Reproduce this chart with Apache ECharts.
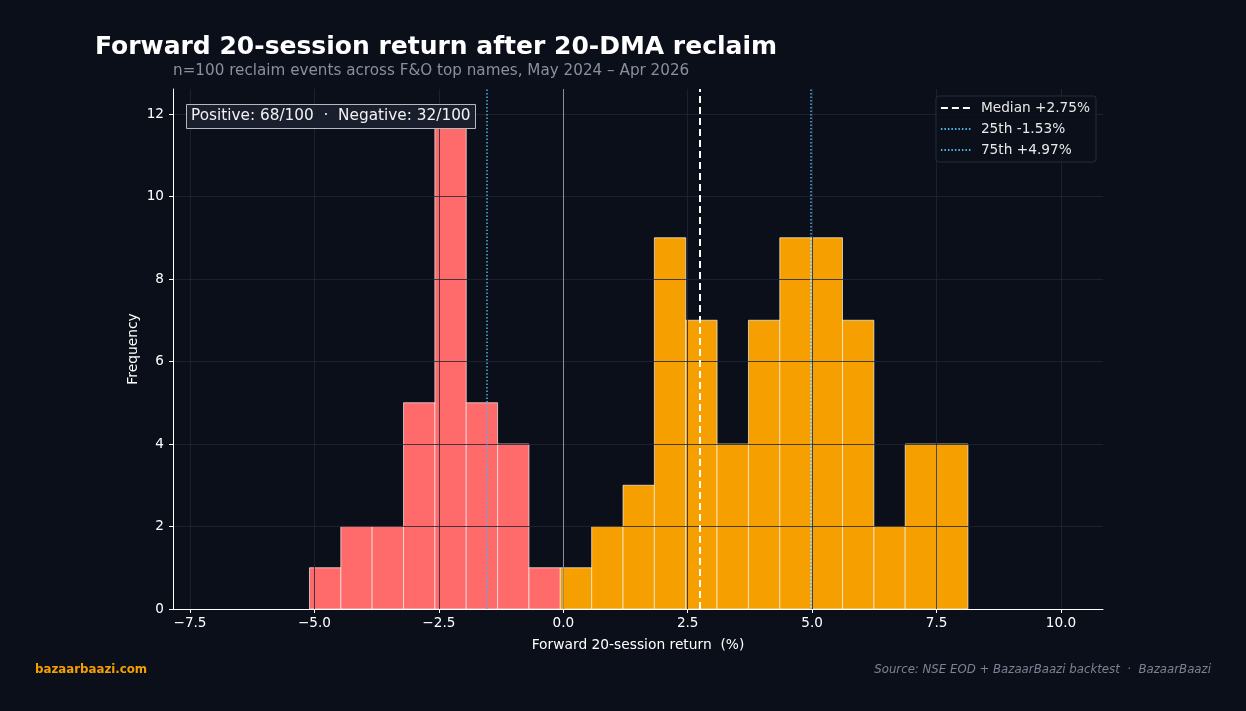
<!DOCTYPE html>
<html>
<head>
<meta charset="utf-8">
<script src="https://cdn.jsdelivr.net/npm/echarts@6/dist/echarts.min.js"></script>
<style>
html,body{margin:0;padding:0;background:#0b0f1a;}
#chart{width:1246px;height:711px;}
</style>
</head>
<body>
<div id="chart"></div>
<script>
// ---- data ----
const negEdges = [-5.10, -4.47, -3.84, -3.21, -2.58, -1.95, -1.32, -0.69, -0.06];
const negCounts = [1, 2, 2, 5, 12, 5, 4, 1];
const posEdges = [-0.06, 0.57, 1.20, 1.83, 2.46, 3.09, 3.72, 4.35, 4.98, 5.61, 6.24, 6.87, 7.50, 8.13];
const posCounts = [1, 2, 3, 9, 7, 4, 7, 9, 9, 7, 2, 4, 4];
const medianVal = 2.75;
const p25Val = -1.53;
const p75Val = 4.97;
const xTickValues = [-7.5, -5.0, -2.5, 0.0, 2.5, 5.0, 7.5, 10.0];
const yTickValues = [0, 2, 4, 6, 8, 10, 12];
const legendNames = ['Median +2.75%', '25th -1.53%', '75th +4.97%'];

function binData(edges, counts) {
  return counts.map((c, i) => [edges[i], edges[i + 1], c]);
}

const BG = '#0b0f1a';
const GRIDLINE = 'rgba(32,38,56,0.82)';
const FONT = 'DejaVu Sans';
const QCOLOR = '#4fb3e8';
const TICKFS = 13.6;

const chart = echarts.init(document.getElementById('chart'), null, {renderer: 'canvas'});

function histSeries(data, color) {
  return {
    type: 'custom',
    xAxisIndex: 0, yAxisIndex: 0,
    z: 2,
    data: data,
    encode: {x: [0, 1], y: 2},
    renderItem: function (params, api) {
      const p0 = api.coord([api.value(0), api.value(2)]);
      const p1 = api.coord([api.value(1), 0]);
      return {
        type: 'rect',
        shape: {x: p0[0], y: p0[1], width: p1[0] - p0[0], height: p1[1] - p0[1]},
        style: {fill: color, stroke: 'rgba(255,255,255,0.8)', lineWidth: 0.8}
      };
    }
  };
}

function refLine(name, value, color, width, dash) {
  return {
    type: 'line', name: name, xAxisIndex: 0, yAxisIndex: 0, data: [], symbol: 'none', showSymbol: false, z: 5,
    color: color, lineStyle: {color: color, width: width, type: dash},
    markLine: {silent: true, symbol: 'none', label: {show: false}, z: 5,
      lineStyle: {color: color, width: width, type: dash},
      data: [{xAxis: value}]}
  };
}

const option = {
  backgroundColor: BG,
  animation: false,
  textStyle: {fontFamily: FONT},
  title: [
    {text: 'Forward 20-session return after 20-DMA reclaim', left: 95, top: 35, padding: 0,
     textStyle: {color: '#ffffff', fontSize: 25, fontWeight: 'bold', fontFamily: FONT}},
    {text: 'n=100 reclaim events across F&O top names, May 2024 – Apr 2026', left: 173, top: 64, padding: 0,
     textStyle: {color: '#8a8fa0', fontSize: 15.2, fontWeight: 'normal', fontFamily: FONT}},
    {text: 'Positive: 68/100  ·  Negative: 32/100', left: 186, top: 104, z: 20,
     backgroundColor: '#1a1f2e', borderColor: '#b8b8b8', borderWidth: 1, padding: [5, 5, 5, 5],
     textStyle: {color: '#f2f2f2', fontSize: 15.3, fontWeight: 'normal', fontFamily: FONT}},
    {text: 'bazaarbaazi.com', left: 35, top: 664, padding: 0,
     textStyle: {color: '#f5a000', fontSize: 11.8, fontWeight: 'bold', fontFamily: FONT}},
    {text: 'Source: NSE EOD + BazaarBaazi backtest  ·  BazaarBaazi', right: 35, top: 664, padding: 0,
     textStyle: {color: '#7d8293', fontSize: 11.75, fontStyle: 'italic', fontWeight: 'normal', fontFamily: FONT}}
  ],
  legend: {
    orient: 'vertical', right: 150, top: 96, z: 20,
    data: legendNames,
    itemWidth: 30, itemHeight: 12, itemGap: 7,
    itemStyle: {opacity: 0},
    backgroundColor: 'rgba(11,15,26,0.85)', borderColor: '#262c3c', borderWidth: 1, borderRadius: 3,
    padding: [5, 6, 5, 4],
    textStyle: {color: '#e8e8e8', fontSize: 13.7, fontFamily: FONT, padding: [0, 0, 0, 5]}
  },
  grid: [
    {left: 173, right: 143, top: 89, bottom: 102},   // data grid
    {left: 190, right: 185, top: 89, bottom: 102},   // x ticks grid
    {left: 173, right: 143, top: 114, bottom: 102}   // y ticks grid
  ],
  xAxis: [
    {gridIndex: 0, type: 'value', min: -7.842, max: 10.844, z: 3,
     name: 'Forward 20-session return  (%)', nameLocation: 'middle', nameGap: 29,
     nameTextStyle: {color: '#ffffff', fontSize: 13.8, fontFamily: FONT},
     axisLine: {show: true, onZero: false, lineStyle: {color: '#ffffff', width: 1}},
     axisTick: {show: false}, axisLabel: {show: false}, splitLine: {show: false}},
    {gridIndex: 1, type: 'value', min: xTickValues[0], max: xTickValues[xTickValues.length - 1], interval: 2.5, z: 3,
     axisLine: {show: false, onZero: false},
     axisTick: {show: true, length: 4, lineStyle: {color: '#ffffff'}},
     axisLabel: {color: '#ffffff', fontSize: TICKFS, margin: 7, fontFamily: FONT,
       formatter: v => (v < 0 ? '\u2212' + Math.abs(v).toFixed(1) : v.toFixed(1))},
     splitLine: {show: true, lineStyle: {color: GRIDLINE, width: 1}}},
    {gridIndex: 2, type: 'value', min: -7.842, max: 10.844, show: false}
  ],
  yAxis: [
    {gridIndex: 0, type: 'value', min: 0, max: 12.606, z: 3,
     name: 'Frequency', nameLocation: 'middle', nameGap: 33,
     nameTextStyle: {color: '#ffffff', fontSize: 13.8, fontFamily: FONT},
     axisLine: {show: true, onZero: false, lineStyle: {color: '#ffffff', width: 1}},
     axisTick: {show: false}, axisLabel: {show: false}, splitLine: {show: false}},
    {gridIndex: 1, type: 'value', min: 0, max: 12.606, show: false},
    {gridIndex: 2, type: 'value', min: yTickValues[0], max: yTickValues[yTickValues.length - 1], interval: 2, z: 3,
     axisLine: {show: false, onZero: false},
     axisTick: {show: true, length: 4, lineStyle: {color: '#ffffff'}},
     axisLabel: {color: '#ffffff', fontSize: TICKFS, margin: 9, fontFamily: FONT},
     splitLine: {show: true, lineStyle: {color: GRIDLINE, width: 1}}}
  ],
  series: [
    histSeries(binData(negEdges, negCounts), '#ff6b6b'),
    histSeries(binData(posEdges, posCounts), '#f5a000'),
    {type: 'line', name: 'zero', xAxisIndex: 0, yAxisIndex: 0, data: [], z: 4,
     markLine: {silent: true, symbol: 'none', label: {show: false}, z: 4,
       lineStyle: {color: '#8a8f99', width: 1, type: 'solid'},
       data: [{xAxis: 0}]}},
    refLine(legendNames[0], medianVal, '#ffffff', 2, [7, 4]),
    refLine(legendNames[1], p25Val, QCOLOR, 1.5, [1.5, 2]),
    refLine(legendNames[2], p75Val, QCOLOR, 1.5, [1.5, 2])
  ]
};
chart.setOption(option);
</script>
</body>
</html>
